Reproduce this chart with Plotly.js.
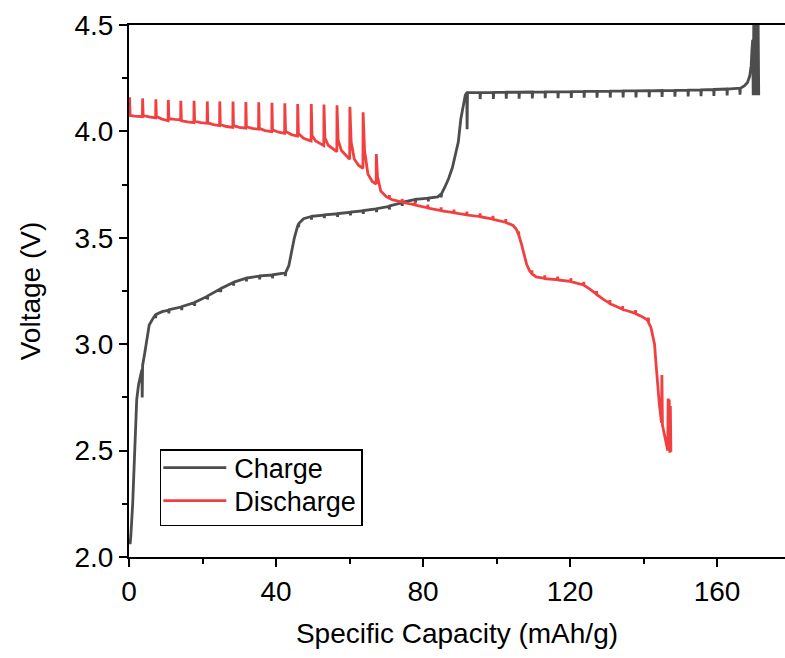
<!DOCTYPE html>
<html>
<head>
<meta charset="utf-8">
<script src="https://cdn.plot.ly/plotly-3.0.1.min.js"></script>
<style>html,body{margin:0;padding:0;background:#fff;}#chart{width:785px;height:658px;}</style>
</head>
<body>
<div id="chart"></div>
<script>
// Charge curve: specific capacity (mAh/g) and voltage (V)
const chargeX = [
  0.3, 0.5, 1.0, 1.5, 1.8, 2.1, 2.6, 3.2, 3.5, 3.6, 3.7, 4.3, 5.0, 5.5, 6.5,
  7.2, 7.25, 7.35, 9.0,
  10.8, 10.85, 10.95, 14.3, 14.35, 14.45, 17.8, 17.85, 17.95, 21.3, 21.35, 21.45,
  24.9, 24.95, 25.05, 28.4, 28.45, 28.55, 31.9, 31.95, 32.05, 35.5, 35.55, 35.65,
  39.0, 39.05, 39.15, 42.5, 42.55, 42.65,
  43.5, 44.2, 45.0, 45.8,
  46.1, 46.15, 46.25, 47.5,
  49.6, 49.65, 49.75, 53.1, 53.15, 53.25, 56.7, 56.75, 56.85, 60.2, 60.25, 60.35,
  63.7, 63.75, 63.85, 67.3, 67.35, 67.45, 70.8, 70.85, 70.95, 74.3, 74.35, 74.45,
  77.9, 77.95, 78.05, 81.4, 81.45, 81.55, 84.0, 84.9, 84.95, 85.05,
  86.0, 87.0, 88.0, 89.0, 89.6, 90.3, 91.0, 91.5, 91.9, 92.0, 92.1,
  95.5, 95.55, 95.65, 99.1, 99.15, 99.25, 102.6, 102.65, 102.75, 106.1, 106.15, 106.25,
  109.7, 109.75, 109.85, 113.2, 113.25, 113.35, 116.7, 116.75, 116.85, 120.3, 120.35, 120.45,
  123.8, 123.85, 123.95, 127.3, 127.35, 127.45, 130.9, 130.95, 131.05, 134.4, 134.45, 134.55,
  137.9, 137.95, 138.05, 141.5, 141.55, 141.65, 145.0, 145.05, 145.15, 148.5, 148.55, 148.65,
  152.1, 152.15, 152.25, 155.6, 155.65, 155.75, 159.1, 159.15, 159.25, 162.7, 162.75, 162.85,
  166.2, 166.25, 166.35,
  167.5, 168.3, 168.9, 169.3, 169.5, 169.7,
  169.85, 170.0, 170.15, 170.3, 170.45, 170.6, 170.75, 170.9, 171.05, 171.2, 171.35
];
const chargeV = [
  2.06, 2.10, 2.25, 2.45, 2.60, 2.74, 2.81, 2.86, 2.88, 2.75, 2.90, 2.96, 3.05, 3.09, 3.12,
  3.138, 3.123, 3.140, 3.153,
  3.160, 3.145, 3.162, 3.175, 3.160, 3.177, 3.195, 3.180, 3.197, 3.225, 3.210, 3.227,
  3.260, 3.245, 3.262, 3.290, 3.275, 3.292, 3.310, 3.295, 3.311, 3.320, 3.305, 3.321,
  3.325, 3.310, 3.326, 3.335, 3.320, 3.337,
  3.370, 3.430, 3.500, 3.550,
  3.565, 3.550, 3.568, 3.590,
  3.600, 3.585, 3.601, 3.607, 3.592, 3.608, 3.613, 3.598, 3.614, 3.620, 3.605, 3.621,
  3.627, 3.612, 3.628, 3.636, 3.621, 3.637, 3.648, 3.633, 3.650, 3.665, 3.650, 3.667,
  3.680, 3.665, 3.681, 3.686, 3.671, 3.687, 3.692, 3.705, 3.690, 3.707,
  3.740, 3.780, 3.830, 3.900, 3.950, 4.060, 4.135, 4.170, 4.182, 4.010, 4.182,
  4.182, 4.152, 4.182, 4.183, 4.153, 4.183, 4.184, 4.154, 4.184, 4.184, 4.154, 4.184,
  4.185, 4.155, 4.185, 4.186, 4.156, 4.186, 4.186, 4.156, 4.186, 4.187, 4.157, 4.187,
  4.188, 4.158, 4.188, 4.188, 4.158, 4.188, 4.189, 4.159, 4.189, 4.190, 4.160, 4.190,
  4.190, 4.160, 4.190, 4.191, 4.161, 4.191, 4.192, 4.162, 4.192, 4.193, 4.163, 4.193,
  4.194, 4.164, 4.194, 4.195, 4.165, 4.195, 4.197, 4.167, 4.197, 4.199, 4.169, 4.199,
  4.203, 4.173, 4.203,
  4.215, 4.230, 4.260, 4.310, 4.380, 4.430,
  4.170, 4.500, 4.170, 4.500, 4.170, 4.500, 4.170, 4.500, 4.170, 4.500, 4.170
];

// Discharge curve: specific capacity (mAh/g) and voltage (V)
const dischargeX = [
  0.15, 0.3, 1.5, 3.65, 3.7, 3.85, 5.5,
  7.25, 7.3, 7.45, 9.0, 10.65, 10.7, 10.85, 12.5, 14.05, 14.1, 14.25, 16.0,
  17.65, 17.7, 17.85, 19.5, 21.25, 21.3, 21.45, 23.0, 24.65, 24.7, 24.85, 26.5,
  28.25, 28.3, 28.45, 30.0, 31.75, 31.8, 31.95, 33.5, 35.25, 35.3, 35.45, 37.0,
  38.85, 38.9, 39.05, 40.7, 42.35, 42.4, 42.6, 44.2, 45.85, 45.9, 46.1, 47.5,
  49.55, 49.6, 49.8, 50.8, 53.0, 53.05, 53.3, 54.2, 56.55, 56.6, 56.9, 57.8,
  60.05, 60.1, 60.45, 61.3, 62.5, 63.65, 63.7, 64.1, 65.0, 66.2, 67.25, 67.3, 67.6, 68.5,
  70.0, 70.8, 70.83, 70.9, 71.8, 74.3, 74.33, 74.4, 77.8, 77.83, 77.9,
  81.3, 81.33, 81.4, 84.9, 84.93, 85.0, 88.4, 88.43, 88.5, 91.9, 91.93, 92.0,
  95.5, 95.53, 95.6, 99.0, 99.03, 99.1, 102.5, 102.53, 102.6, 104.5, 105.4,
  106.0, 106.03, 106.1, 106.8, 107.5, 108.2, 109.0, 109.6, 109.63, 109.7, 110.8,
  113.1, 113.13, 113.2, 116.6, 116.63, 116.7, 120.2, 120.23, 120.3, 123.7, 123.73, 123.8,
  125.5, 127.2, 127.23, 127.3, 129.0, 130.8, 130.83, 130.9, 132.5, 134.3, 134.33, 134.4,
  136.0, 137.8, 137.83, 137.9, 139.5, 140.7, 141.3, 141.33, 141.4,
  142.0, 142.6, 143.0, 143.3, 143.6, 144.3, 144.9, 145.0, 145.15, 145.9, 146.6,
  146.7, 146.85, 147.0, 147.15, 147.3, 147.45
];
const dischargeV = [
  4.160, 4.075, 4.072, 4.069, 4.155, 4.075, 4.068,
  4.064, 4.151, 4.070, 4.058, 4.050, 4.148, 4.060, 4.056, 4.054, 4.144, 4.050, 4.045,
  4.041, 4.144, 4.048, 4.041, 4.038, 4.141, 4.040, 4.032, 4.027, 4.141, 4.032, 4.023,
  4.019, 4.140, 4.027, 4.019, 4.015, 4.138, 4.022, 4.014, 4.010, 4.137, 4.015, 4.004,
  3.999, 4.135, 4.008, 3.996, 3.991, 4.132, 4.000, 3.985, 3.978, 4.129, 3.990, 3.968,
  3.955, 4.129, 3.980, 3.955, 3.933, 4.126, 3.970, 3.935, 3.905, 4.123, 3.960, 3.910,
  3.869, 4.116, 3.950, 3.870, 3.840, 3.826, 4.090, 3.910, 3.800, 3.765, 3.753, 3.894, 3.790, 3.720,
  3.693, 3.686, 3.701, 3.685, 3.678, 3.668, 3.683, 3.667, 3.655, 3.670, 3.654,
  3.641, 3.656, 3.640, 3.628, 3.643, 3.627, 3.618, 3.633, 3.617, 3.608, 3.623, 3.607,
  3.600, 3.615, 3.599, 3.588, 3.603, 3.587, 3.573, 3.588, 3.572, 3.558, 3.540,
  3.515, 3.530, 3.510, 3.470, 3.420, 3.375, 3.345, 3.332, 3.347, 3.330, 3.316,
  3.309, 3.324, 3.308, 3.303, 3.318, 3.302, 3.295, 3.310, 3.294, 3.278, 3.293, 3.277,
  3.258, 3.235, 3.250, 3.233, 3.212, 3.192, 3.207, 3.190, 3.178, 3.164, 3.179, 3.163,
  3.155, 3.145, 3.160, 3.143, 3.130, 3.118, 3.107, 3.125, 3.100,
  3.080, 3.040, 3.000, 2.930, 2.865, 2.720, 2.630, 2.855, 2.620, 2.560, 2.500,
  2.745, 2.500, 2.740, 2.490, 2.710, 2.495
];

const seriesNames = ['Charge', 'Discharge'];
const seriesColors = ['#4d4d4d', '#f24040'];
const xTitle = 'Specific Capacity (mAh/g)';
const yTitle = 'Voltage (V)';

const FONT = '"Liberation Sans", Arial, sans-serif';

const traces = [
  {x: chargeX, y: chargeV, name: seriesNames[0], type: 'scatter', mode: 'lines',
   line: {color: seriesColors[0], width: 2.8}},
  {x: dischargeX, y: dischargeV, name: seriesNames[1], type: 'scatter', mode: 'lines',
   line: {color: seriesColors[1], width: 2.8}}
];

const layout = {
  width: 785, height: 658,
  margin: {l: 129, r: 0, t: 25, b: 101, pad: 0},
  paper_bgcolor: '#fff', plot_bgcolor: '#fff',
  font: {family: FONT, color: '#000', size: 28},
  showlegend: true,
  legend: {
    x: 0.047, y: 0.203, xanchor: 'left', yanchor: 'top',
    bgcolor: '#fff', bordercolor: '#000', borderwidth: 1.5,
    font: {family: FONT, size: 27, color: '#000'},
    itemwidth: 63, tracegroupgap: 0
  },
  xaxis: {
    range: [0, 178.5], tickmode: 'array', tickvals: [0, 40, 80, 120, 160],
    showgrid: false, zeroline: false,
    showline: true, linecolor: '#000', linewidth: 2, mirror: true,
    ticks: 'outside', ticklen: 8, tickwidth: 2, tickcolor: '#000',
    tickfont: {family: FONT, size: 28, color: '#000'},
    minor: {ticks: 'outside', ticklen: 5, tickwidth: 2, tickcolor: '#000', dtick: 20, tick0: 0, showgrid: false},
    title: {text: xTitle, font: {family: FONT, size: 28, color: '#000'}, standoff: 18}
  },
  yaxis: {
    range: [2.0, 4.5], tickmode: 'array', tickvals: [2.0, 2.5, 3.0, 3.5, 4.0, 4.5],
    ticktext: ['2.0', '2.5', '3.0', '3.5', '4.0', '4.5'],
    showgrid: false, zeroline: false,
    showline: true, linecolor: '#000', linewidth: 2, mirror: false,
    ticks: 'outside', ticklen: 8, tickwidth: 2, tickcolor: '#000',
    tickfont: {family: FONT, size: 28, color: '#000'},
    minor: {ticks: 'outside', ticklen: 5, tickwidth: 2, tickcolor: '#000', dtick: 0.25, tick0: 2.0, showgrid: false},
    title: {text: yTitle, font: {family: FONT, size: 28, color: '#000'}, standoff: 26}
  }
};

Plotly.newPlot('chart', traces, layout, {displayModeBar: false, staticPlot: true}).then(function () {
  const leg = document.querySelector('.legend');
  if (!leg) return;
  // lengthen legend line samples to match the reference's long swatches
  leg.querySelectorAll('.legendlines path').forEach(function (p) {
    p.setAttribute('d', 'M2,0h63');
  });
  // tighten legend rows like the reference
  const bg = leg.querySelector('rect.bg');
  if (bg) bg.setAttribute('height', parseFloat(bg.getAttribute('height')) - 13);
  leg.querySelectorAll('.traces').forEach(function (t, i) {
    const m = /translate\(\s*([-\d.]+)[ ,]+([-\d.]+)\s*\)/.exec(t.getAttribute('transform') || '');
    if (m) t.setAttribute('transform', 'translate(' + m[1] + ',' + (parseFloat(m[2]) - 7 - 5 * i) + ')');
  });
});
</script>
</body>
</html>
